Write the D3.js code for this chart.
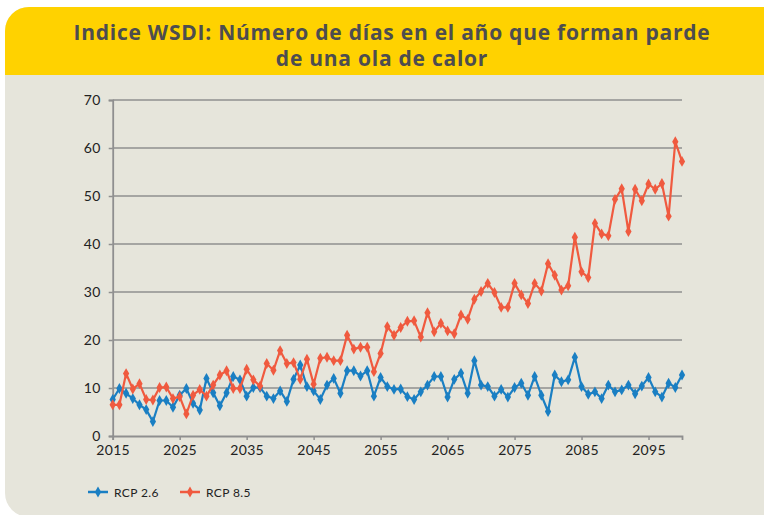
<!DOCTYPE html>
<html>
<head>
<meta charset="utf-8">
<script src="https://cdn.jsdelivr.net/npm/d3@7"></script>
<style>
  body { margin: 0; background: #ffffff; }
  svg { display: block; }
</style>
</head>
<body>
<div id="chart"></div>
<script>
// años 2015..2100
const years = d3.range(2015, 2101);

const rcp26 = [
  7.6, 9.9, 8.9, 7.8, 6.5, 5.5, 3.0, 7.4, 7.4, 6.0,
  8.5, 9.9, 6.8, 5.4, 12.0, 9.0, 6.3, 9.0, 12.4, 11.7,
  8.3, 10.1, 10.1, 8.3, 7.8, 9.4, 7.2, 11.8, 14.8, 10.3,
  9.4, 7.6, 10.6, 12.0, 8.9, 13.6, 13.6, 12.5, 13.6, 8.3,
  12.2, 10.3, 9.7, 9.8, 8.2, 7.6, 9.2, 10.6, 12.4, 12.4,
  8.1, 11.8, 13.1, 8.9, 15.7, 10.6, 10.3, 8.3, 9.7, 8.1,
  10.1, 11.0, 8.5, 12.4, 8.5, 5.1, 12.7, 11.3, 11.7, 16.4,
  10.3, 8.7, 9.2, 7.8, 10.6, 9.2, 9.6, 10.6, 8.8, 10.4,
  12.2, 9.2, 8.1, 11.0, 10.1, 12.7
];

const rcp85 = [
  6.5, 6.5, 13.0, 9.8, 10.9, 7.6, 7.5, 10.1, 10.2, 7.8,
  8.2, 4.6, 8.5, 9.7, 8.3, 10.6, 12.7, 13.6, 9.9, 9.9,
  13.9, 11.7, 10.4, 15.1, 13.7, 17.8, 15.1, 15.3, 11.8, 16.0,
  10.8, 16.2, 16.4, 15.7, 15.7, 21.0, 18.1, 18.5, 18.5, 13.4,
  17.2, 22.8, 21.0, 22.6, 23.9, 24.0, 20.6, 25.7, 21.7, 23.5,
  21.9, 21.3, 25.2, 24.3, 28.5, 30.1, 31.8, 29.9, 26.8, 26.8,
  31.8, 29.4, 27.6, 31.8, 30.2, 35.9, 33.5, 30.4, 31.3, 41.4,
  34.2, 33.0, 44.3, 42.1, 41.7, 49.3, 51.5, 42.6, 51.4, 49.0,
  52.5, 51.4, 52.6, 45.8, 61.3, 57.2
];

const xTicks = [2015, 2025, 2035, 2045, 2055, 2065, 2075, 2085, 2095];
const yTicks = [0, 10, 20, 30, 40, 50, 60, 70];

const seriesNames = ["RCP 2.6", "RCP 8.5"];
const seriesColors = ["#1a7fc3", "#f05a3f"];

const W = 764, H = 515;
const font = "'Lato', 'Open Sans', sans-serif";

const svg = d3.select("#chart").append("svg")
  .attr("width", W)
  .attr("height", H);

// tarjeta: fondo gris con esquinas redondeadas y banda amarilla arriba
const clip = svg.append("clipPath").attr("id", "card");
clip.append("rect")
  .attr("x", 5).attr("y", 7)
  .attr("width", 790).attr("height", 510)
  .attr("rx", 24).attr("ry", 24);

const card = svg.append("g").attr("clip-path", "url(#card)");
card.append("rect")
  .attr("x", 0).attr("y", 0).attr("width", W + 40).attr("height", H + 10)
  .attr("fill", "#e6e5db");
card.append("rect")
  .attr("x", 0).attr("y", 0).attr("width", W + 40).attr("height", 75)
  .attr("fill", "#ffd200");

// right corner of the yellow band
svg.append("rect")
  .attr("x", 700).attr("y", 7).attr("width", 90).attr("height", 68)
  .attr("rx", 18).attr("fill", "#ffd200");
svg.append("rect")
  .attr("x", 700).attr("y", 40).attr("width", 90).attr("height", 35)
  .attr("fill", "#ffd200");

const title = svg.append("text")
  .attr("text-anchor", "middle")
  .style("font-family", "'Open Sans', sans-serif")
  .style("font-weight", "bold")
  .style("font-size", "21px")
  .style("letter-spacing", "0.75px")
  .attr("fill", "#4d4d4f");
title.append("tspan").attr("x", 392).attr("y", 40)
  .text("Indice WSDI: Número de días en el año que forman parde");
title.append("tspan").attr("x", 382).attr("y", 66)
  .text("de una ola de calor");

const margin = { top: 100, right: 82, bottom: 79, left: 112.7 },
  width = W - margin.left - margin.right,
  height = H - margin.top - margin.bottom;

const x = d3.scaleLinear().domain([2015, 2100]).range([0, width]);
const y = d3.scaleLinear().domain([0, 70]).range([height, 0]);

const g = svg.append("g")
  .attr("transform", "translate(" + margin.left + "," + margin.top + ")");

// gridlines
g.append("g")
  .selectAll("line")
  .data(yTicks.filter(d => d > 0))
  .enter().append("line")
  .attr("x1", 0).attr("x2", width)
  .attr("y1", d => y(d)).attr("y2", d => y(d))
  .attr("stroke", "#8f8f8f")
  .attr("stroke-width", 1.6);

const yAxis = d3.axisLeft(y).tickValues(yTicks).tickSize(4).tickPadding(8);
const xAxis = d3.axisBottom(x).tickValues(xTicks).tickSize(4).tickPadding(5)
  .tickFormat(d3.format("d"));

const yG = g.append("g").call(yAxis);
const xG = g.append("g").attr("transform", "translate(0," + height + ")").call(xAxis);

[yG, xG].forEach(a => {
  a.select(".domain").attr("stroke", "#8f8f8f").attr("stroke-width", 1.8);
  a.selectAll(".tick line").attr("stroke", "#8f8f8f").attr("stroke-width", 1.5);
  a.selectAll("text")
    .style("font-family", font)
    .style("font-size", "14px")
    .style("letter-spacing", "0.3px")
    .attr("fill", "#222");
});

const line = d3.line()
  .x((d, i) => x(years[i]))
  .y(d => y(d));

const marker = d3.symbol().type(d3.symbolDiamond).size(34);

[rcp26, rcp85].forEach((vals, k) => {
  const col = seriesColors[k];
  g.append("path")
    .datum(vals)
    .attr("fill", "none")
    .attr("stroke", col)
    .attr("stroke-width", 2.2)
    .attr("d", line);

  g.selectAll(".dot" + k)
    .data(vals)
    .enter().append("path")
    .attr("class", "dot" + k)
    .attr("d", marker)
    .attr("fill", col)
    .attr("transform", (d, i) => "translate(" + x(years[i]) + "," + y(d) + ")");
});

// leyenda
const legend = svg.append("g").attr("transform", "translate(88,492)");
const legendX = [0, 92];
seriesNames.forEach((name, k) => {
  const lg = legend.append("g").attr("transform", "translate(" + legendX[k] + ",0)");
  lg.append("line")
    .attr("x1", 0).attr("x2", 20)
    .attr("stroke", seriesColors[k]).attr("stroke-width", 2.5);
  lg.append("path")
    .attr("d", marker)
    .attr("transform", "translate(10,0)")
    .attr("fill", seriesColors[k]);
  lg.append("text")
    .attr("x", 26).attr("y", 4.5)
    .style("font-family", font)
    .style("font-size", "12px")
    .style("letter-spacing", "0.4px")
    .attr("fill", "#222")
    .text(name);
});
</script>
</body>
</html>
